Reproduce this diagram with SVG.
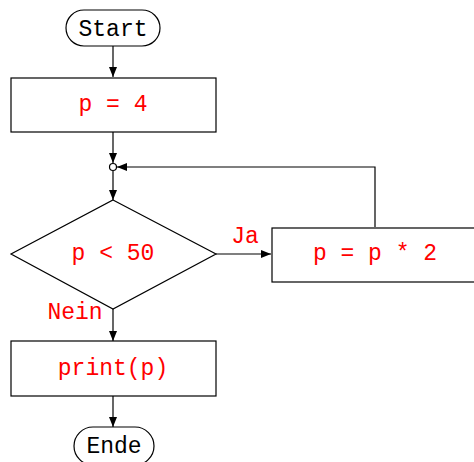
<svg xmlns="http://www.w3.org/2000/svg" width="474" height="462" viewBox="0 0 474 462">
<style>
.shape{fill:#fff;stroke:#000;stroke-width:1.2}
.edge{fill:none;stroke:#000;stroke-width:1.2}
.t{font-family:"Liberation Mono","DejaVu Sans Mono",monospace;font-size:23px;text-anchor:middle}
.code{fill:#ff0000}
.blk{fill:#000}
</style>
<defs>
<marker id="ah" viewBox="0 0 10 8" refX="10" refY="4" markerWidth="10" markerHeight="8" markerUnits="userSpaceOnUse" orient="auto">
<path d="M0,0 L10,4 L0,8 Z" fill="#000"/>
</marker>
</defs>
<g id="connectors">
<line class="edge" x1="113" y1="46" x2="113" y2="77" marker-end="url(#ah)"/>
<line class="edge" x1="113" y1="132" x2="113" y2="163" marker-end="url(#ah)"/>
<line class="edge" x1="113" y1="171" x2="113" y2="200" marker-end="url(#ah)"/>
<line class="edge" x1="216" y1="254" x2="271" y2="254" marker-end="url(#ah)"/>
<polyline class="edge" points="375,227 375,167 117,167" marker-end="url(#ah)"/>
<line class="edge" x1="113" y1="309" x2="113" y2="341" marker-end="url(#ah)"/>
<line class="edge" x1="113" y1="396" x2="113" y2="427" marker-end="url(#ah)"/>
<text class="t code" x="245" y="243">Ja</text>
<text class="t code" x="75" y="319">Nein</text>
</g>
<g id="start">
<rect class="shape" x="66" y="10" width="94" height="36" rx="18"/>
<text class="t blk" x="113" y="36">Start</text>
</g>
<g id="init">
<rect class="shape" x="11" y="78" width="205" height="54"/>
<text class="t code" x="113" y="111">p = 4</text>
</g>
<g id="junction">
<circle class="shape" cx="113" cy="167" r="3.5"/>
</g>
<g id="cond">
<polygon class="shape" points="113,200 216,254 113,309 11,254"/>
<text class="t code" x="113" y="260">p &lt; 50</text>
</g>
<g id="double">
<rect class="shape" x="272" y="228" width="206" height="54"/>
<text class="t code" x="375" y="260">p = p * 2</text>
</g>
<g id="print">
<rect class="shape" x="11" y="341" width="205" height="55"/>
<text class="t code" x="113" y="375">print(p)</text>
</g>
<g id="end">
<rect class="shape" x="74" y="427" width="80" height="38" rx="19"/>
<text class="t blk" x="114" y="453">Ende</text>
</g>
</svg>
